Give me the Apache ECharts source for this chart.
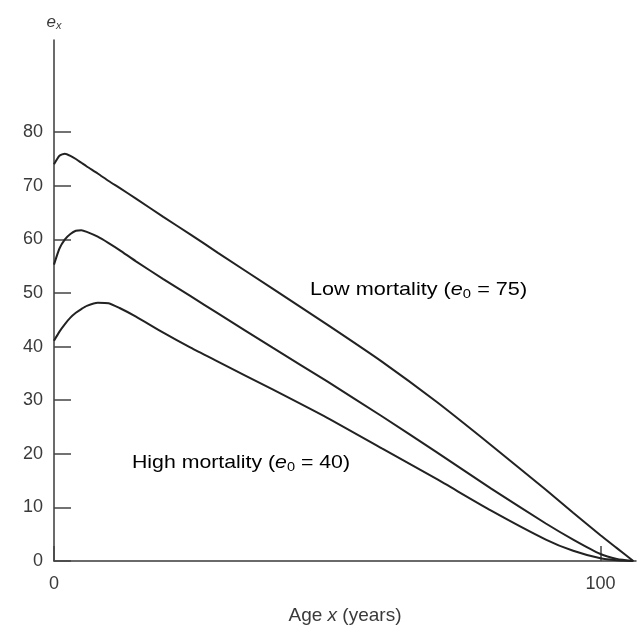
<!DOCTYPE html>
<html>
<head>
<meta charset="utf-8">
<script src="https://cdn.jsdelivr.net/npm/echarts@6/dist/echarts.min.js"></script>
<style>html,body{margin:0;padding:0;background:#fff}#c{width:639px;height:630px}</style>
</head>
<body>
<div id="c"></div>
<script>
var ages = [0,1,2,3,4,5,6,8,10,12,15,20,25,30,40,50,60,70,80,90,95,100,103,106];
var lowMortality = [74.0,75.6,76.0,75.6,75.0,74.3,73.6,72.3,70.9,69.6,67.6,64.2,60.9,57.5,50.8,44.1,37.2,29.7,21.6,13.3,9.0,4.8,2.4,0];
var midMortality = [55.3,58.3,60.0,61.0,61.6,61.7,61.4,60.5,59.3,58.0,55.9,52.6,49.4,46.2,39.8,33.5,27.0,20.3,13.5,7.0,4.0,1.3,0.4,0];
var highMortality = [41.1,42.8,44.2,45.4,46.3,47.0,47.6,48.2,48.1,47.2,45.6,42.6,39.8,37.2,32.0,26.7,21.0,15.3,9.4,4.0,1.9,0.5,0.15,0];
var xTicks = [0,100];
var yTicks = [0,10,20,30,40,50,60,70,80];

function pairs(v){ return ages.map(function(a,i){ return [a, v[i]]; }); }

var chart = echarts.init(document.getElementById('c'));
var lineStyle = {color:'#222', width:2};
var ink = '#3a3a3a';
var sub = {fontSize:13, color:ink, fontFamily:'Liberation Sans', padding:[9,0,0,0]};
chart.setOption({
  animation:false,
  backgroundColor:'#fff',
  grid:{left:54, right:3, top:40, bottom:63, containLabel:false},
  xAxis:{
    type:'value', min:0, max:106.5,
    axisLine:{show:true, lineStyle:{color:'#3a3a3a', width:1.5}},
    axisTick:{show:true, inside:true, length:15, customValues:xTicks, lineStyle:{color:'#444', width:1.5}},
    axisLabel:{customValues:xTicks, fontSize:18, color:ink, fontFamily:'Liberation Sans', margin:14},
    splitLine:{show:false},
    name:'{n|Age }{i|x}{n| (years)}', nameLocation:'middle', nameGap:45,
    nameTextStyle:{rich:{n:{fontSize:19, color:ink, fontFamily:'Liberation Sans'}, i:{fontSize:19, color:ink, fontStyle:'italic', fontFamily:'Liberation Sans'}}}
  },
  yAxis:{
    type:'value', min:0, max:97.2,
    axisLine:{show:true, lineStyle:{color:'#3a3a3a', width:1.5}},
    axisTick:{show:true, inside:true, length:17, customValues:yTicks, lineStyle:{color:'#444', width:1.5}},
    axisLabel:{customValues:yTicks, fontSize:18, color:ink, fontFamily:'Liberation Sans', margin:11},
    splitLine:{show:false},
    name:'{i|e}{s|x}', nameLocation:'end', nameGap:9,
    nameTextStyle:{rich:{i:{fontSize:17, color:ink, fontStyle:'italic', fontFamily:'Liberation Sans'}, s:{fontSize:11, color:ink, fontStyle:'italic', fontFamily:'Liberation Sans', padding:[7,0,0,0]}}}
  },
  graphic:[
    {type:'text', left:310, top:280, scaleX:1.14, style:{text:'{n|Low mortality (}{i|e}{s|0}{n| = 75)}', rich:{n:{fontSize:19, color:ink, fontFamily:'Liberation Sans'}, i:{fontSize:19, color:ink, fontStyle:'italic', fontFamily:'Liberation Sans'}, s:sub}}},
    {type:'text', left:132, top:453, scaleX:1.12, style:{text:'{n|High mortality (}{i|e}{s|0}{n| = 40)}', rich:{n:{fontSize:19, color:ink, fontFamily:'Liberation Sans'}, i:{fontSize:19, color:ink, fontStyle:'italic', fontFamily:'Liberation Sans'}, s:sub}}}
  ],
  series:[
    {type:'line', name:'Low mortality', data:pairs(lowMortality), smooth:0.2, showSymbol:false, lineStyle:lineStyle},
    {type:'line', name:'Intermediate', data:pairs(midMortality), smooth:0.2, showSymbol:false, lineStyle:lineStyle},
    {type:'line', name:'High mortality', data:pairs(highMortality), smooth:0.2, showSymbol:false, lineStyle:lineStyle}
  ]
});
</script>
</body>
</html>
